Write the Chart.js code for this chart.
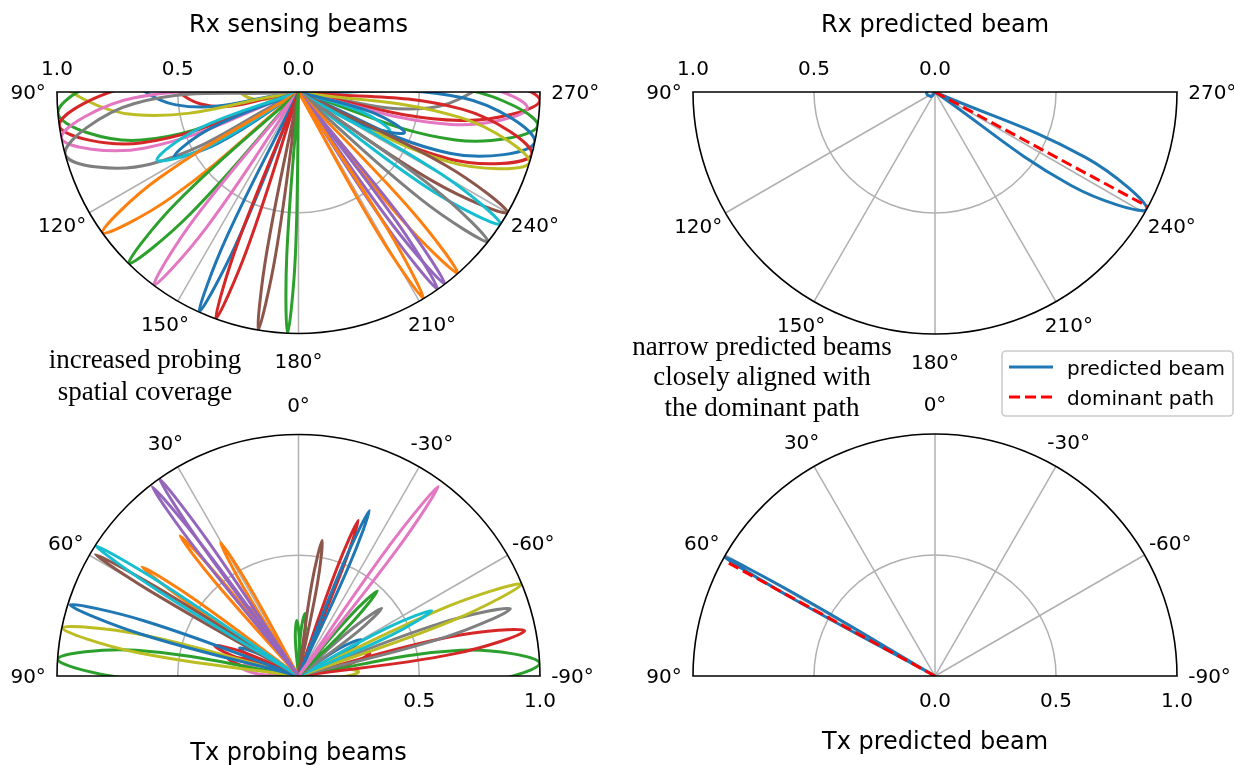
<!DOCTYPE html>
<html>
<head>
<meta charset="utf-8">
<script src="https://cdn.jsdelivr.net/npm/chart.js@4.4.0/dist/chart.umd.min.js"></script>
<style>
  html, body { margin: 0; padding: 0; background: #fff; }
  canvas { display: block; }
</style>
</head>
<body>
<canvas id="beamChart" width="1234" height="765"></canvas>
<script>
// ---- data (angle in deg, gain 0..1, lobe half-width in deg) ----

// Rx sensing beams (top left)
const rxSenseAngle = [177.4, 170.4, 160.0, 155.7, 143.2, 135.3, 125.7, 115.7, 117.5, 105, 101, 98, 95, 86, 80, 75, 72,
                      211.2, 215.2, 217.3, 221.3, 231.7, 236.8, 240.0, 249, 247, 253, 255, 258, 262, 266, 268, 276];
const rxSenseGain  = [1, 1, 1, 1, 1, 1, 1, 0.65, 0.58, 1, 1, 1, 1, 1, 0.75, 0.6, 0.3,
                      1, 1, 1, 1, 1, 1, 1, 0.47, 0.41, 1, 1, 1, 1, 0.95, 1, 0.8];
const rxSenseWidth = [1.5, 1.6, 1.9, 2.0, 2.6, 3.1, 4.0, 5.5, 5, 11, 9, 10, 12, 12, 16, 22, 25,
                      1.8, 1.9, 2.0, 2.3, 2.9, 3.3, 3.5, 5.5, 5.5, 8, 9, 10, 9, 8, 8, 13];
const rxSenseColor = ['green', 'brown', 'red', 'blue', 'pink', 'green', 'orange', 'cyan', 'blue', 'gray', 'pink', 'red', 'green', 'olive', 'blue', 'red', 'olive',
                      'orange', 'purple', 'purple', 'orange', 'gray', 'cyan', 'brown', 'blue', 'cyan', 'olive', 'red', 'blue', 'green', 'pink', 'red', 'gray'];

// Tx probing beams (bottom left)
const txProbeAngle = [35.2, 37.7, 30.3, 40.2, 35.5, 57.3, 59.1, 55.1, 72.7, 78.5, 86, 70.2, 81, 64.7, 76,
                      -36.4, -23.2, -21.0, -9.9, -42.8, -50.9, -63.9, -67.6, -72.4, -78.7, -87, -59.9, -72.4, -5.9, 1.8, -86];
const txProbeGain  = [1.0, 0.99, 0.64, 0.76, 0.35, 1.0, 0.98, 0.79, 0.99, 1.0, 1.0, 0.37, 0.245, 0.27, 0.3,
                      0.975, 0.745, 0.69, 0.57, 0.48, 0.444, 0.614, 1.0, 0.92, 0.955, 1.0, 0.3, 0.31, 0.26, 0.23, 0.25];
const txProbeWidth = [1.3, 1.3, 1.5, 1.4, 2.5, 1.4, 1.2, 1.5, 2.4, 3.2, 5, 3.5, 6, 4, 5,
                      1.5, 1.4, 1.4, 1.7, 2.1, 2.3, 2.4, 2.6, 2.8, 3.2, 6, 4, 4.5, 3, 3, 6];
const txProbeColor = ['purple', 'purple', 'orange', 'orange', 'orange', 'cyan', 'brown', 'orange', 'blue', 'olive', 'green', 'red', 'pink', 'blue', 'red',
                      'pink', 'blue', 'red', 'brown', 'green', 'gray', 'cyan', 'olive', 'gray', 'red', 'green', 'blue', 'red', 'green', 'green', 'olive'];

// predicted beams and dominant paths (right column)
const rxPredAngle = [241, 100];
const rxPredGain  = [1.0, 0.035];
const rxPredWidth = [5.5, 40];
const rxPathAngle = 241.7, rxPathGain = 1.0;

const txPredAngle = [60.5];
const txPredGain  = [1.0];
const txPredWidth = [0.9];
const txPathAngle = 61.3, txPathGain = 0.98;

const radialTicks = [0.0, 0.5, 1.0];
const rxThetaTicks = [90, 120, 150, 180, 210, 240, 270];
const txThetaTicks = [90, 60, 30, 0, -30, -60, -90];

// ---- layout ----
const W = 1234, H = 765;
const tab = {
  blue: '#1f77b4', orange: '#ff7f0e', green: '#2ca02c', red: '#d62728', purple: '#9467bd',
  brown: '#8c564b', pink: '#e377c2', gray: '#7f7f7f', olive: '#bcbd22', cyan: '#17becf'
};
const panels = [
  { id: 'rxs', cx: 298.5, cy: 92, R: 241.5, half: 'down', ticks: rxThetaTicks, title: 'Rx sensing beams', titleY: 32 },
  { id: 'rxp', cx: 935, cy: 92, R: 242, half: 'down', ticks: rxThetaTicks, title: 'Rx predicted beam', titleY: 32 },
  { id: 'txs', cx: 298.5, cy: 676, R: 241.5, half: 'up', ticks: txThetaTicks, title: 'Tx probing beams', titleY: 760 },
  { id: 'txp', cx: 935, cy: 676, R: 242, half: 'up', ticks: txThetaTicks, title: 'Tx predicted beam', titleY: 749 }
];
const panelById = {};
panels.forEach(p => { panelById[p.id] = p; });

const rad = d => d * Math.PI / 180;
// theta 0 points up, increasing counter-clockwise
function toXY(a, r) {
  return { x: -r * Math.sin(rad(a)), y: r * Math.cos(rad(a)) };
}
function lobe(a, g, w) {
  return [[a, 0], [a - w, 0.68 * g], [a, g], [a + w, 0.68 * g], [a, 0]].map(([t, r]) => toXY(t, r));
}

const datasets = [];
function addLobes(pid, angles, gains, widths, colors) {
  angles.forEach((a, i) => {
    datasets.push({
      label: pid + i,
      data: lobe(a, gains[i], widths[i]),
      borderColor: colors[i],
      borderWidth: 3,
      tension: 0.4,
      showLine: true,
      fill: false,
      pointRadius: 0,
      xAxisID: 'x_' + pid,
      yAxisID: 'y_' + pid
    });
  });
}
function addPath(pid, a, g) {
  datasets.push({
    label: pid + 'path',
    data: [toXY(a, 0), toXY(a, g)],
    borderColor: 'red',
    borderWidth: 3,
    borderDash: [11, 5],
    showLine: true,
    fill: false,
    pointRadius: 0,
    xAxisID: 'x_' + pid,
    yAxisID: 'y_' + pid
  });
}
addPath('rxp', rxPathAngle, rxPathGain);
addPath('txp', txPathAngle, txPathGain);
addLobes('rxs', rxSenseAngle, rxSenseGain, rxSenseWidth, rxSenseColor.map(c => tab[c]));
addLobes('txs', txProbeAngle, txProbeGain, txProbeWidth, txProbeColor.map(c => tab[c]));
addLobes('rxp', rxPredAngle, rxPredGain, rxPredWidth, rxPredAngle.map(() => tab.blue));
addLobes('txp', txPredAngle, txPredGain, txPredWidth, txPredAngle.map(() => tab.blue));

const scales = {};
panels.forEach(p => {
  scales['x_' + p.id] = { type: 'linear', display: false, bounds: 'data', min: -p.cx / p.R, max: (W - p.cx) / p.R };
  scales['y_' + p.id] = { type: 'linear', display: false, bounds: 'data', min: -(H - p.cy) / p.R, max: p.cy / p.R };
});

function centre(chart, p) {
  const xs = chart.scales['x_' + p.id], ys = chart.scales['y_' + p.id];
  const x = xs.getPixelForValue(0), y = ys.getPixelForValue(0);
  return { x, y, R: xs.getPixelForValue(1) - x };
}
function toPix(c, a, r) {
  return { x: c.x - r * c.R * Math.sin(rad(a)), y: c.y - r * c.R * Math.cos(rad(a)) };
}
function halfArc(ctx, c, r, p) {
  if (p.half === 'down') ctx.arc(c.x, c.y, r, 0, Math.PI);
  else ctx.arc(c.x, c.y, r, Math.PI, 2 * Math.PI);
}

const polarFrame = {
  id: 'polarFrame',
  beforeDatasetsDraw(chart) {
    const ctx = chart.ctx;
    panels.forEach(p => {
      const c = centre(chart, p);
      ctx.save();
      ctx.strokeStyle = '#b0b0b0';
      ctx.lineWidth = 1.5;
      ctx.beginPath();
      halfArc(ctx, c, 0.5 * c.R, p);
      ctx.stroke();
      p.ticks.slice(1, -1).forEach(a => {
        const e = toPix(c, a, 1);
        ctx.beginPath();
        ctx.moveTo(c.x, c.y);
        ctx.lineTo(e.x, e.y);
        ctx.stroke();
      });
      ctx.restore();
    });
  },
  beforeDatasetDraw(chart, args) {
    const p = panelById[args.meta.xAxisID.slice(2)];
    const c = centre(chart, p);
    const ctx = chart.ctx;
    ctx.save();
    ctx.beginPath();
    halfArc(ctx, c, c.R, p);
    ctx.closePath();
    ctx.clip();
  },
  afterDatasetDraw(chart) {
    chart.ctx.restore();
  },
  afterDatasetsDraw(chart) {
    const ctx = chart.ctx;
    panels.forEach(p => {
      const c = centre(chart, p);
      ctx.save();
      ctx.strokeStyle = '#000';
      ctx.lineWidth = 1.6;
      ctx.beginPath();
      halfArc(ctx, c, c.R, p);
      ctx.closePath();
      ctx.stroke();
      ctx.restore();
    });
  },
  afterDraw(chart) {
    const ctx = chart.ctx;
    ctx.save();
    ctx.fillStyle = '#000';
    ctx.textAlign = 'center';
    ctx.textBaseline = 'alphabetic';
    panels.forEach(p => {
      const c = centre(chart, p);
      // titles
      ctx.font = '24px "DejaVu Sans"';
      ctx.fillText(p.title, c.x, p.titleY);
      // radial tick labels
      ctx.font = '20px "DejaVu Sans"';
      radialTicks.forEach(r => {
        const txt = r.toFixed(1);
        if (p.half === 'down') ctx.fillText(txt, c.x - r * c.R, c.y - 17);
        else ctx.fillText(txt, c.x + r * c.R, c.y + 31);
      });
      // angle labels
      p.ticks.forEach(a => {
        const txt = a + '°';
        const pos = toPix(c, a, 1.1);
        const dx = -Math.sin(rad(a)), dy = Math.cos(rad(a));
        const w = ctx.measureText(txt).width;
        const sx = Math.sign(dx) * Math.pow(dx, 4) * (w / 2 - 13);
        const sy = p.half === 'down' ? 3 * Math.pow(dy, 4) : -6 * Math.pow(dy, 4);
        ctx.fillText(txt, pos.x + sx, pos.y + sy + 7.3);
      });
    });

    // annotations
    ctx.font = '27px "Liberation Serif", "Times New Roman", serif';
    ctx.fillText('increased probing', 145, 368);
    ctx.fillText('spatial coverage', 145, 400);
    ctx.fillText('narrow predicted beams', 762, 355);
    ctx.fillText('closely aligned with', 762, 385);
    ctx.fillText('the dominant path', 762, 416);

    // legend
    const lx = 1002, ly = 351, lw = 231, lh = 65;
    ctx.fillStyle = 'rgba(255,255,255,0.8)';
    ctx.strokeStyle = '#cccccc';
    ctx.lineWidth = 1.6;
    ctx.beginPath();
    ctx.roundRect(lx, ly, lw, lh, 4);
    ctx.fill();
    ctx.stroke();
    ctx.lineWidth = 3;
    ctx.strokeStyle = tab.blue;
    ctx.beginPath();
    ctx.moveTo(1009, 367);
    ctx.lineTo(1053, 367);
    ctx.stroke();
    ctx.strokeStyle = 'red';
    ctx.setLineDash([11, 5]);
    ctx.beginPath();
    ctx.moveTo(1009, 397);
    ctx.lineTo(1053, 397);
    ctx.stroke();
    ctx.setLineDash([]);
    ctx.fillStyle = '#000';
    ctx.textAlign = 'left';
    ctx.font = '20px "DejaVu Sans"';
    ctx.fillText('predicted beam', 1067, 374.5);
    ctx.fillText('dominant path', 1067, 404.5);
    ctx.restore();
  }
};

new Chart(document.getElementById('beamChart').getContext('2d'), {
  type: 'scatter',
  data: { datasets },
  options: {
    responsive: false,
    animation: false,
    devicePixelRatio: 1,
    layout: { padding: 0 },
    plugins: { legend: { display: false }, tooltip: { enabled: false }, title: { display: false } },
    scales
  },
  plugins: [polarFrame]
});
</script>
</body>
</html>
